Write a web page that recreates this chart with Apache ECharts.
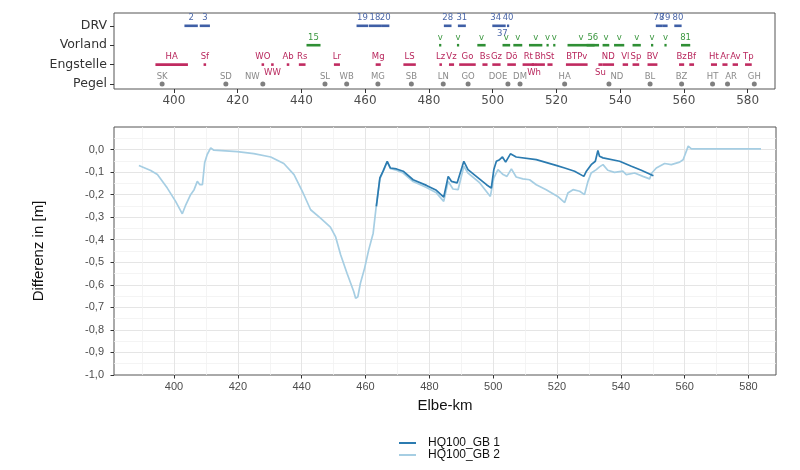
<!DOCTYPE html>
<html><head><meta charset="utf-8">
<script src="https://cdn.jsdelivr.net/npm/echarts@6/dist/echarts.min.js"></script>
<style>html,body{margin:0;padding:0;background:#fff}#c{width:800px;height:470px}</style>
</head><body><div id="c"></div>
<script>
// ---------- data ----------
const xTicks = [400, 420, 440, 460, 480, 500, 520, 540, 560, 580];
const yTicks = [-1.0, -0.9, -0.8, -0.7, -0.6, -0.5, -0.4, -0.3, -0.2, -0.1, 0.0];
const rowNames = ['Pegel', 'Engstelle', 'Vorland', 'DRV'];

// [start km, end km, label]
const drvSegs = [
  [403.3, 407.5, '2'], [408.1, 411.3, '3'],
  [457.3, 461.0, '19'], [461.2, 465.0, '18'], [465.0, 467.6, '20'],
  [484.7, 487.1, '28'], [489.1, 491.6, '31'],
  [499.9, 502.0, '34'], [502.0, 504.1, '37'], [504.5, 505.2, '40'],
  [551.2, 553.2, '78'], [553.2, 554.9, '79'], [557.0, 559.3, '80']
];
const vorSegs = [
  [441.6, 446.0, '15'], [483.2, 483.9, 'v'], [488.8, 489.5, 'v'],
  [495.2, 497.8, 'v'], [503.1, 505.5, 'v'], [506.5, 509.3, 'v'],
  [511.4, 515.6, 'v'], [516.9, 517.6, 'v'], [519.0, 519.7, 'v'],
  [523.5, 532.0, 'v'], [529.5, 533.4, '56'], [534.5, 536.6, 'v'],
  [538.1, 541.3, 'v'], [543.9, 546.5, 'v'], [549.7, 550.4, 'v'],
  [553.9, 554.6, 'v'], [559.1, 562.0, '81']
];
const engSegs = [
  [394.2, 404.4, 'HA'], [409.3, 410.1, 'Sf'], [427.5, 428.3, 'WO'],
  [430.5, 431.3, 'WW'], [435.4, 436.2, 'Ab'], [439.2, 441.3, 'Rs'],
  [450.2, 452.1, 'Lr'], [463.3, 464.9, 'Mg'], [472.0, 475.9, 'LS'],
  [483.3, 484.1, 'Lz'], [486.3, 487.9, 'Vz'], [489.5, 494.7, 'Go'],
  [496.8, 498.4, 'Bs'], [499.9, 502.5, 'Gz'], [504.6, 507.3, 'Dö'],
  [509.4, 513.0, 'Rt'], [512.3, 513.7, 'Wh'], [513.5, 516.4, 'Bh'],
  [517.2, 518.8, 'St'], [523.0, 529.8, 'BTPv'], [533.2, 534.5, 'Su'],
  [534.5, 538.1, 'ND'], [540.8, 542.5, 'Vl'], [543.9, 546.0, 'Sp'],
  [548.6, 551.7, 'BV'], [558.5, 560.1, 'Bz'], [561.7, 563.2, 'Bf'],
  [568.5, 570.4, 'Ht'], [572.1, 573.7, 'Ar'], [575.3, 577.0, 'Av'],
  [579.2, 581.3, 'Tp']
];
// [km, label]
const pegel = [
  [396.3, 'SK'], [416.3, 'SD'], [427.9, 'NW'], [447.4, 'SL'], [454.2, 'WB'],
  [464.0, 'MG'], [474.5, 'SB'], [484.5, 'LN'], [492.3, 'GO'], [504.8, 'DOE'],
  [508.6, 'DM'], [522.6, 'HA'], [536.5, 'ND'], [549.4, 'BL'], [559.3, 'BZ'],
  [569.0, 'HT'], [573.7, 'AR'], [582.1, 'GH']
];

const kmGB2 = [389.0,392.7,394.8,397.9,400.5,402.6,403.7,405.2,406.3,407.3,408.1,408.9,409.6,410.4,411.5,412.5,419.8,425.0,430.3,434.4,437.6,440.2,442.8,445.9,449.0,450.6,452.2,454.2,456.3,456.9,457.6,458.4,459.7,461.0,462.4,463.4,464.5,465.5,466.8,467.8,469.7,471.8,474.9,479.1,482.2,484.5,485.9,487.4,489.0,490.8,492.1,495.8,499.1,500.2,501.5,503.1,504.3,505.7,507.2,509.3,511.4,513.5,516.6,520.2,522.4,523.4,525.0,527.1,528.6,529.7,530.7,532.3,533.3,534.4,535.9,538.0,540.6,541.7,544.3,546.9,549.0,549.7,551.1,553.7,555.8,558.4,559.5,561.1,562.1,583.9];
const diffGB2 = [-0.071,-0.093,-0.111,-0.171,-0.230,-0.285,-0.245,-0.200,-0.178,-0.141,-0.156,-0.156,-0.059,-0.022,0.007,-0.003,-0.009,-0.018,-0.033,-0.062,-0.111,-0.185,-0.267,-0.304,-0.344,-0.386,-0.467,-0.549,-0.630,-0.660,-0.653,-0.593,-0.527,-0.445,-0.371,-0.245,-0.130,-0.098,-0.055,-0.085,-0.092,-0.104,-0.142,-0.168,-0.192,-0.230,-0.141,-0.175,-0.178,-0.074,-0.104,-0.148,-0.208,-0.126,-0.089,-0.111,-0.119,-0.086,-0.122,-0.130,-0.134,-0.156,-0.178,-0.208,-0.235,-0.193,-0.178,-0.185,-0.200,-0.141,-0.104,-0.089,-0.077,-0.067,-0.092,-0.101,-0.096,-0.111,-0.104,-0.119,-0.130,-0.104,-0.082,-0.062,-0.067,-0.056,-0.045,0.015,0.003,0.003];

const kmGB1 = [463.4,464.5,465.5,466.8,467.8,469.7,471.8,474.9,479.1,482.2,484.5,485.9,486.9,488.7,490.8,492.1,494.7,497.9,499.4,500.2,501.0,502.0,502.9,503.9,505.4,507.2,513.5,519.7,522.4,525.5,528.4,529.2,530.7,532.0,532.8,533.3,534.4,539.6,543.3,546.4,550.2];
const diffGB1 = [-0.252,-0.126,-0.096,-0.052,-0.082,-0.086,-0.096,-0.134,-0.159,-0.181,-0.211,-0.119,-0.141,-0.148,-0.052,-0.089,-0.119,-0.156,-0.171,-0.089,-0.052,-0.045,-0.033,-0.056,-0.019,-0.033,-0.045,-0.070,-0.082,-0.096,-0.119,-0.096,-0.067,-0.052,-0.004,-0.030,-0.037,-0.052,-0.074,-0.092,-0.116];

// ---------- style / layout ----------
const X_MIN = 381.2, X_MAX = 588.6;
const minorXTicks = xTicks.flatMap(t => [t - 10, t]);
const belowLabels = new Set(['WW', 'Wh', 'Su', '37']);
const pegelLabelShift = { NW: -3.3, DOE: -3.1, ND: 2.5, AR: 1.1 }; // repel shifts (km)
const TXT_FONT = '8.5px "DejaVu Sans"';

function segSeries(name, segs, row, color, textColor) {
  return {
    type: 'custom', name: name, xAxisIndex: 0, yAxisIndex: 0, silent: true,
    data: segs.map(s => [s[0], s[1], row]),
    renderItem: function (params, api) {
      const s = segs[params.dataIndex];
      const a = api.coord([api.value(0), api.value(2)]);
      const b = api.coord([api.value(1), api.value(2)]);
      const below = belowLabels.has(s[2]);
      return {
        type: 'group', children: [
          { type: 'line', shape: { x1: a[0], y1: a[1], x2: b[0], y2: b[1] },
            style: { stroke: color, lineWidth: 2.6 } },
          { type: 'text', x: (a[0] + b[0]) / 2, y: a[1] + (below ? 7.8 : -7.6),
            style: { text: s[2], fill: textColor, font: TXT_FONT, align: 'center', verticalAlign: 'middle' } }
        ]
      };
    }
  };
}

const pegelSeries = {
  type: 'custom', name: 'Pegel', xAxisIndex: 0, yAxisIndex: 0, silent: true,
  data: pegel.map(p => [p[0], 1]),
  renderItem: function (params, api) {
    const p = pegel[params.dataIndex];
    const c = api.coord([api.value(0), api.value(1)]);
    const lc = api.coord([api.value(0) + (pegelLabelShift[p[1]] || 0), api.value(1)]);
    return {
      type: 'group', children: [
        { type: 'circle', shape: { cx: c[0], cy: c[1], r: 2.5 }, style: { fill: '#7f7f7f' } },
        { type: 'text', x: lc[0], y: c[1] - 7.6,
          style: { text: p[1], fill: '#8a8a8a', font: TXT_FONT, align: 'center', verticalAlign: 'middle' } }
      ]
    };
  }
};

const fmt = v => (Math.abs(v) < 1e-9 ? 0 : v).toFixed(1).replace('.', ',');
const tickLbl = { fontFamily: 'Liberation Sans', fontSize: 11, color: '#4d4d4d' };

const option = {
  animation: false,
  backgroundColor: '#fff',
  grid: [
    { left: 114, top: 13, width: 661, height: 76, show: true, borderColor: '#555', borderWidth: 1, backgroundColor: 'transparent' },
    { left: 114, top: 127, width: 662, height: 248, show: true, borderColor: '#555', borderWidth: 1, backgroundColor: 'transparent' }
  ],
  xAxis: [
    { gridIndex: 0, type: 'value', position: 'bottom', min: X_MIN, max: X_MAX,
      axisLine: { show: false }, splitLine: { show: false },
      axisTick: { show: true, customValues: xTicks, length: 4, lineStyle: { color: '#333' } },
      axisLabel: { customValues: xTicks, margin: 6, fontSize: 12, color: '#4d4d4d', fontFamily: 'DejaVu Sans' } },
    { gridIndex: 1, type: 'value', position: 'bottom', min: X_MIN, max: X_MAX,
      axisLine: { show: false }, axisLabel: { show: false },
      axisTick: { show: false, customValues: minorXTicks },
      splitLine: { show: true, lineStyle: { color: '#f1f1f1', width: 0.8 } } },
    { gridIndex: 1, type: 'value', position: 'bottom', min: X_MIN, max: X_MAX,
      name: 'Elbe-km', nameLocation: 'middle', nameGap: 23,
      nameTextStyle: { fontFamily: 'Liberation Sans', fontSize: 15, color: '#111' },
      axisLine: { show: false },
      axisTick: { show: true, customValues: xTicks, length: 3.5, lineStyle: { color: '#333' } },
      axisLabel: Object.assign({ customValues: xTicks, margin: 6.5 }, tickLbl),
      splitLine: { show: true, lineStyle: { color: '#e5e5e5', width: 1 } } }
  ],
  yAxis: [
    { gridIndex: 0, type: 'value', position: 'left', min: 0.742, max: 4.66,
      axisLine: { show: false }, splitLine: { show: false },
      axisTick: { show: true, customValues: [1, 2, 3, 4], length: 4, lineStyle: { color: '#333' } },
      axisLabel: { customValues: [1, 2, 3, 4], formatter: v => rowNames[Math.round(v) - 1],
        margin: 7, fontSize: 12.5, color: '#333', fontFamily: 'DejaVu Sans' } },
    { gridIndex: 1, type: 'value', position: 'left', min: -1, max: 0.1, interval: 0.1,
      name: 'Differenz in [m]', nameLocation: 'middle', nameGap: 68,
      nameTextStyle: { fontFamily: 'Liberation Sans', fontSize: 15, color: '#111' },
      axisLine: { show: false },
      axisTick: { show: true, customValues: yTicks, length: 3.5, lineStyle: { color: '#333' } },
      axisLabel: Object.assign({ customValues: yTicks, formatter: fmt, margin: 10 }, tickLbl),
      splitLine: { show: true, showMinLine: false, lineStyle: { color: '#e5e5e5', width: 1 } },
      minorTick: { show: false, splitNumber: 2 },
      minorSplitLine: { show: true, lineStyle: { color: '#f1f1f1', width: 0.8 } } }
  ],
  legend: {
    data: ['HQ100_GB 1', 'HQ100_GB 2'], orient: 'vertical', left: 399, top: 437,
    icon: 'rect', itemWidth: 17, itemHeight: 2, itemGap: 0, padding: 0,
    textStyle: { fontFamily: 'Liberation Sans', fontSize: 12, color: '#111', lineHeight: 11.5, padding: [0, 0, 0, 7] }
  },
  series: [
    segSeries('DRV', drvSegs, 4, '#3f5fa6', '#4b67a8'),
    segSeries('Vorland', vorSegs, 3, '#2f8f35', '#3a963e'),
    segSeries('Engstelle', engSegs, 2, '#c02a60', '#b8265c'),
    pegelSeries,
    { type: 'line', name: 'HQ100_GB 2', xAxisIndex: 2, yAxisIndex: 1,
      data: kmGB2.map((k, i) => [k, diffGB2[i]]), symbol: 'none', showSymbol: false,
      lineStyle: { color: '#a6cee3', width: 1.7 }, itemStyle: { color: '#a6cee3' }, z: 3 },
    { type: 'line', name: 'HQ100_GB 1', xAxisIndex: 2, yAxisIndex: 1,
      data: kmGB1.map((k, i) => [k, diffGB1[i]]), symbol: 'none', showSymbol: false,
      lineStyle: { color: '#2b7bb0', width: 1.7 }, itemStyle: { color: '#2b7bb0' }, z: 4 }
  ]
};
const chart = echarts.init(document.getElementById('c'));
chart.setOption(option);
</script></body></html>
